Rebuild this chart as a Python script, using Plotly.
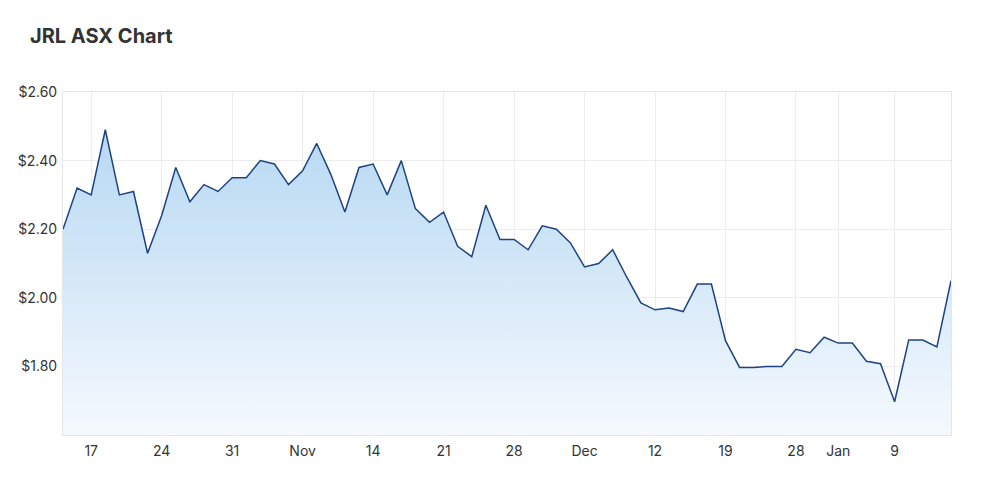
import plotly.graph_objects as go

dates = [
    "2022-10-13", "2022-10-14",
    "2022-10-17", "2022-10-18", "2022-10-19", "2022-10-20", "2022-10-21",
    "2022-10-24", "2022-10-25", "2022-10-26", "2022-10-27", "2022-10-28",
    "2022-10-31", "2022-11-01", "2022-11-02", "2022-11-03", "2022-11-04",
    "2022-11-07", "2022-11-08", "2022-11-09", "2022-11-10", "2022-11-11",
    "2022-11-14", "2022-11-15", "2022-11-16", "2022-11-17", "2022-11-18",
    "2022-11-21", "2022-11-22", "2022-11-23", "2022-11-24", "2022-11-25",
    "2022-11-28", "2022-11-29", "2022-11-30", "2022-12-01", "2022-12-02",
    "2022-12-05", "2022-12-06", "2022-12-07", "2022-12-08", "2022-12-09",
    "2022-12-12", "2022-12-13", "2022-12-14", "2022-12-15", "2022-12-16",
    "2022-12-19", "2022-12-20", "2022-12-21", "2022-12-22", "2022-12-23",
    "2022-12-28", "2022-12-29", "2022-12-30",
    "2023-01-03", "2023-01-04", "2023-01-05", "2023-01-06",
    "2023-01-09", "2023-01-10", "2023-01-11", "2023-01-12", "2023-01-13",
]

prices = [
    2.20, 2.32,
    2.30, 2.49, 2.30, 2.31, 2.13,
    2.24, 2.38, 2.28, 2.33, 2.31,
    2.35, 2.35, 2.40, 2.39, 2.33,
    2.37, 2.45, 2.36, 2.25, 2.38,
    2.39, 2.30, 2.40, 2.26, 2.22,
    2.25, 2.15, 2.12, 2.27, 2.17,
    2.17, 2.14, 2.21, 2.20, 2.16,
    2.09, 2.10, 2.14, 2.06, 1.985,
    1.965, 1.97, 1.96, 2.04, 2.04,
    1.875, 1.797, 1.797, 1.80, 1.80,
    1.85, 1.84, 1.885, 1.868, 1.868,
    1.815, 1.808, 1.697, 1.877, 1.877,
    1.857, 2.05,
]

tick_dates = ["2022-10-17", "2022-10-24", "2022-10-31", "2022-11-07", "2022-11-14",
              "2022-11-21", "2022-11-28", "2022-12-05", "2022-12-12", "2022-12-19",
              "2022-12-28", "2023-01-03", "2023-01-09"]
tick_labels = ["17", "24", "31", "Nov", "14", "21", "28", "Dec", "12", "19", "28", "Jan", "9"]

y_ticks = [1.8, 2.0, 2.2, 2.4, 2.6]
y_tick_labels = ["$1.80", "$2.00", "$2.20", "$2.40", "$2.60"]

fig = go.Figure()
fig.add_trace(go.Scatter(
    x=dates, y=prices, mode="lines",
    line=dict(color="#1d4480", width=1.5),
    fill="tozeroy",
    fillgradient=dict(
        type="vertical",
        colorscale=[[0, "rgba(245,249,254,1)"], [1, "rgba(186,218,243,1)"]],
        start=1.6, stop=2.45,
    ),
    hoverinfo="skip",
))

grid = "#ececec"
fig.update_layout(
    width=1000, height=488,
    margin=dict(l=63, r=49, t=92, b=53),
    paper_bgcolor="white", plot_bgcolor="white",
    showlegend=False,
    font=dict(family="Inter, 'Open Sans', sans-serif", size=14, color="#333333"),
    title=dict(text="<b>JRL ASX Chart</b>", x=0.03, xanchor="left", y=0.926, yanchor="middle",
               font=dict(size=20, color="#333333")),
    xaxis=dict(
        type="category", range=[0, len(dates) - 1],
        tickmode="array", tickvals=tick_dates, ticktext=tick_labels,
        showgrid=True, gridcolor=grid, gridwidth=1,
        showline=True, linecolor="#e6e6e6", mirror=True,
        ticks="", ticklabelstandoff=3,
        tickfont=dict(size=14, color="#333333"),
        zeroline=False,
    ),
    yaxis=dict(
        range=[1.6, 2.6],
        tickmode="array", tickvals=y_ticks, ticktext=y_tick_labels,
        showgrid=True, gridcolor=grid, gridwidth=1,
        showline=True, linecolor="#e6e6e6", mirror=True,
        ticks="", ticklabelstandoff=2,
        tickfont=dict(size=14, color="#333333"),
        zeroline=False,
    ),
)

fig.write_html("out.html")
